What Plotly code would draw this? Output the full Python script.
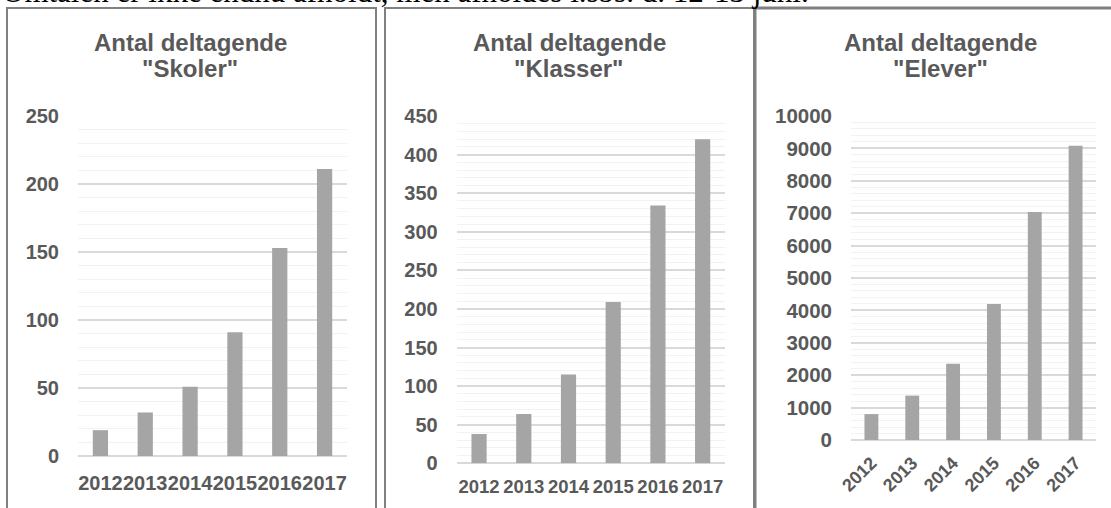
import plotly.graph_objects as go

W, H = 1111, 508

years = ["2012", "2013", "2014", "2015", "2016", "2017"]
skoler = [19, 32, 51, 91, 153, 211]
klasser = [38, 64, 115, 209, 334, 420]
elever = [800, 1370, 2350, 4200, 7040, 9080]

title_line1 = "Antal deltagende"
title_line2 = ['"Skoler"', '"Klasser"', '"Elever"']
header_text = "Omtalen er ikke endnu afholdt, men afholdes i.sbs. d. 12-13 juni."

BAR = "#A5A5A5"
TXT = "#595959"
MAJ = "#D9D9D9"
MIN = "#F2F2F2"
BORDER = "#808080"

def px_x(x):
    return x / W

def px_y(y):
    return 1 - y / H

panels = [
    dict(data=skoler, x=(78, 347), y=(456, 116), rng=250, dt=50, mdt=10, tfs=20, xfs=20, angle=0, tx=190, stand=18, xstand=13),
    dict(data=klasser, x=(456.7, 725), y=(463.3, 116), rng=450, dt=50, mdt=10, tfs=20, xfs=18.5, angle=0, tx=569, stand=18, xstand=10),
    dict(data=elever, x=(851, 1096), y=(440, 116), rng=10000, dt=1000, mdt=200, tfs=20.5, xfs=18, angle=-45, tx=940, stand=18, xstand=8),
]

fig = go.Figure()
annotations = []
for i, p in enumerate(panels, start=1):
    sx = "" if i == 1 else str(i)
    fig.add_trace(go.Bar(
        x=years, y=p["data"], marker=dict(color=BAR, line=dict(width=0)),
        width=0.34, xaxis="x" + sx, yaxis="y" + sx, showlegend=False,
        hoverinfo="x+y",
    ))
    fig.layout["xaxis" + sx] = dict(
        domain=[px_x(p["x"][0]), px_x(p["x"][1])], anchor="y" + sx,
        type="category", showgrid=False, showline=False, zeroline=False,
        tickfont=dict(family="Liberation Sans, Arial", size=p["xfs"], color=TXT, weight="bold"),
        tickangle=p["angle"], ticks="", ticklabelstandoff=p["xstand"],
        fixedrange=True, automargin=False,
    )
    fig.layout["yaxis" + sx] = dict(
        domain=[px_y(p["y"][0]), px_y(p["y"][1])], anchor="x" + sx,
        range=[0, p["rng"]], dtick=p["dt"], tick0=0, tickformat="d",
        showgrid=True, gridcolor=MAJ, gridwidth=1.6,
        zeroline=True, zerolinecolor=MAJ, zerolinewidth=1.6,
        showline=False, ticks="",
        minor=dict(dtick=p["mdt"], tick0=0, showgrid=True, gridcolor=MIN, gridwidth=1),
        tickfont=dict(family="Liberation Sans, Arial", size=p["tfs"], color=TXT, weight="bold"),
        ticklabelstandoff=p["stand"], fixedrange=True, automargin=False,
    )
    for txt, ypix in ((title_line1, 43), (title_line2[i - 1], 69)):
        annotations.append(dict(
            text=txt, xref="paper", yref="paper",
            x=px_x(p["tx"]), y=px_y(ypix), xanchor="center", yanchor="middle",
            showarrow=False, align="center",
            font=dict(family="Liberation Sans, Arial", size=24, color=TXT, weight="bold"),
        ))

annotations.append(dict(
    text=header_text, xref="paper", yref="paper", x=0, y=px_y(-9),
    xanchor="left", yanchor="middle", showarrow=False,
    font=dict(family="Liberation Serif, Times New Roman", size=31, color="#000000"),
))

border = dict(color=BORDER, width=2)
shapes = [
    dict(type="rect", xref="paper", yref="paper", x0=px_x(7), x1=px_x(376), y0=px_y(530), y1=px_y(8), line=border),
    dict(type="rect", xref="paper", yref="paper", x0=px_x(385), x1=px_x(754), y0=px_y(530), y1=px_y(8), line=border),
    dict(type="rect", xref="paper", yref="paper", x0=px_x(755), x1=px_x(1130), y0=px_y(530), y1=px_y(8), line=dict(color=BORDER, width=3)),
]

fig.update_layout(
    width=W, height=H, margin=dict(l=0, r=0, t=0, b=0, pad=0, autoexpand=False),
    paper_bgcolor="white", plot_bgcolor="white", template="none",
    annotations=annotations, shapes=shapes, bargap=0.66,
    font=dict(family="Liberation Sans, Arial"),
)

fig.write_html(
    "out.html",
    config={"displayModeBar": False},
    post_script="document.body.style.margin='0px'; document.body.style.overflow='hidden';",
)
